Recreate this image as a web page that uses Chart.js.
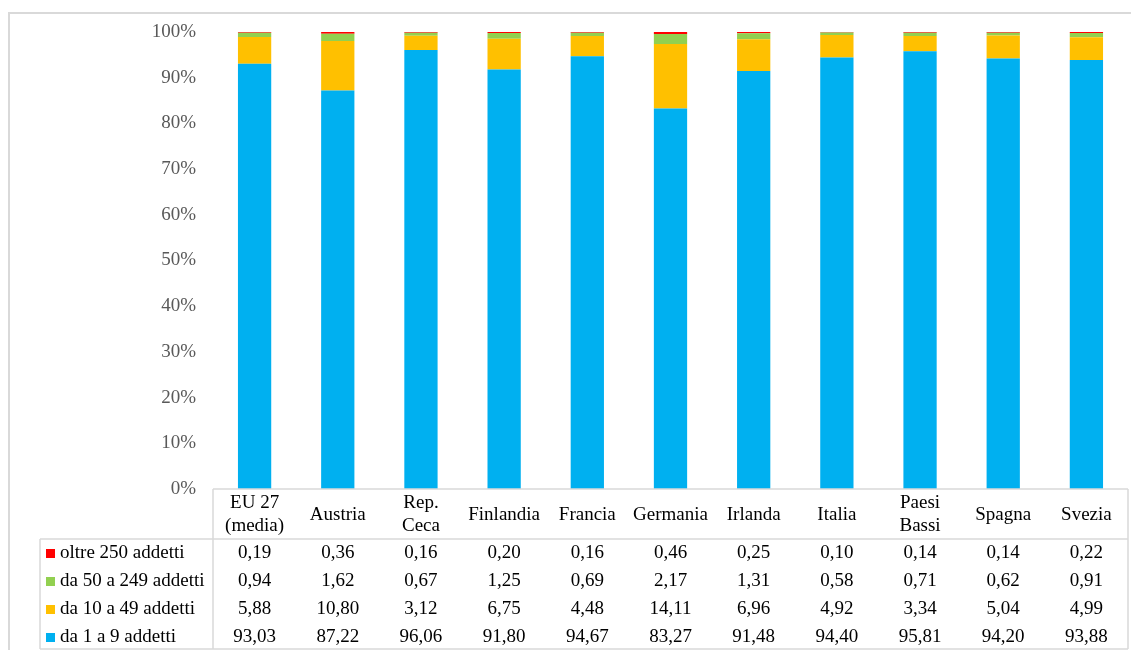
<!DOCTYPE html>
<html>
<head>
<meta charset="utf-8">
<title>Imprese per classe di addetti</title>
<script src="https://cdn.jsdelivr.net/npm/chart.js"></script>
<style>
  html, body { margin: 0; padding: 0; background: #fff; }
  #box { width: 1131px; height: 650px; }
</style>
</head>
<body>
<div id="box"><canvas id="grafico"></canvas></div>
<script>
// categorie e valori (% imprese per classe di addetti)
const paesi = [['EU 27', '(media)'], 'Austria', ['Rep.', 'Ceca'], 'Finlandia', 'Francia', 'Germania', 'Irlanda', 'Italia', ['Paesi', 'Bassi'], 'Spagna', 'Svezia'];
const da1a9 = [93.03, 87.22, 96.06, 91.80, 94.67, 83.27, 91.48, 94.40, 95.81, 94.20, 93.88];
const da10a49 = [5.88, 10.80, 3.12, 6.75, 4.48, 14.11, 6.96, 4.92, 3.34, 5.04, 4.99];
const da50a249 = [0.94, 1.62, 0.67, 1.25, 0.69, 2.17, 1.31, 0.58, 0.71, 0.62, 0.91];
const oltre250 = [0.19, 0.36, 0.16, 0.20, 0.16, 0.46, 0.25, 0.10, 0.14, 0.14, 0.22];
const tickY = [0, 10, 20, 30, 40, 50, 60, 70, 80, 90, 100];

const FONT = "'Liberation Serif', 'Times New Roman', serif";
const BORDO = '#d9d9d9';

const serie = [
  { label: 'da 1 a 9 addetti', data: da1a9, backgroundColor: '#00b0f0' },
  { label: 'da 10 a 49 addetti', data: da10a49, backgroundColor: '#ffc000' },
  { label: 'da 50 a 249 addetti', data: da50a249, backgroundColor: '#92d050' },
  { label: 'oltre 250 addetti', data: oltre250, backgroundColor: '#ff0000' }
];

// tabella dati sotto il grafico, con le chiavi di legenda
const tabella = {
  id: 'tabella',
  beforeDraw(chart) {
    const ctx = chart.ctx;
    ctx.save();
    ctx.strokeStyle = BORDO;
    ctx.lineWidth = 2;
    ctx.beginPath();
    ctx.moveTo(9, 650);
    ctx.lineTo(9, 13);
    ctx.lineTo(1131, 13);
    ctx.stroke();
    ctx.restore();
  },
  afterDraw(chart) {
    const ctx = chart.ctx;
    const xs = chart.scales.x;
    const a = chart.chartArea;
    const top = a.bottom, header = top + 50, bottom = 649, left = 40;
    ctx.save();
    ctx.strokeStyle = BORDO;
    ctx.lineWidth = 1.5;
    ctx.beginPath();
    ctx.moveTo(a.left, top); ctx.lineTo(a.right, top);
    ctx.moveTo(left, header); ctx.lineTo(a.right, header);
    ctx.moveTo(left, bottom); ctx.lineTo(a.right, bottom);
    ctx.moveTo(a.left, top); ctx.lineTo(a.left, bottom);
    ctx.moveTo(a.right, top); ctx.lineTo(a.right, bottom);
    ctx.moveTo(left, header); ctx.lineTo(left, bottom);
    ctx.stroke();

    ctx.font = '19px ' + FONT;
    ctx.fillStyle = '#000';
    ctx.textAlign = 'center';
    ctx.textBaseline = 'middle';
    paesi.forEach((p, i) => {
      const cx = xs.getPixelForValue(i);
      const righe = Array.isArray(p) ? p : [p];
      const y0 = (top + header) / 2 + 1 - (righe.length - 1) * 11.5;
      righe.forEach((r, k) => ctx.fillText(r, cx, y0 + k * 23));
    });

    const ordine = chart.data.datasets.slice().reverse();
    ordine.forEach((ds, r) => {
      const cy = header + 14 + r * 28;
      ctx.fillStyle = ds.backgroundColor;
      ctx.fillRect(46, cy - 4, 9, 9);
      ctx.fillStyle = '#000';
      ctx.textAlign = 'left';
      ctx.fillText(ds.label, 60, cy);
      ctx.textAlign = 'center';
      ds.data.forEach((v, i) => {
        ctx.fillText(v.toFixed(2).replace('.', ','), xs.getPixelForValue(i), cy);
      });
    });
    ctx.restore();
  }
};

new Chart(document.getElementById('grafico'), {
  type: 'bar',
  data: { labels: paesi, datasets: serie },
  options: {
    responsive: true,
    maintainAspectRatio: false,
    animation: false,
    layout: { padding: { top: 32, right: 3, left: 0, bottom: 0 } },
    datasets: { bar: { categoryPercentage: 1, barPercentage: 0.4 } },
    plugins: { legend: { display: false }, tooltip: { enabled: false } },
    scales: {
      x: {
        stacked: true,
        grid: { display: false },
        border: { display: false },
        ticks: { display: false },
        afterFit: s => { s.height = 161; }
      },
      y: {
        stacked: true,
        min: 0,
        max: 100,
        afterFit: s => { s.width = 213; },
        afterBuildTicks: s => { s.ticks = tickY.map(v => ({ value: v })); },
        grid: { display: false },
        border: { display: false },
        ticks: {
          padding: 9,
          color: '#595959',
          font: { family: FONT, size: 19 },
          callback: v => v + '%'
        }
      }
    }
  },
  plugins: [tabella]
});
</script>
</body>
</html>
